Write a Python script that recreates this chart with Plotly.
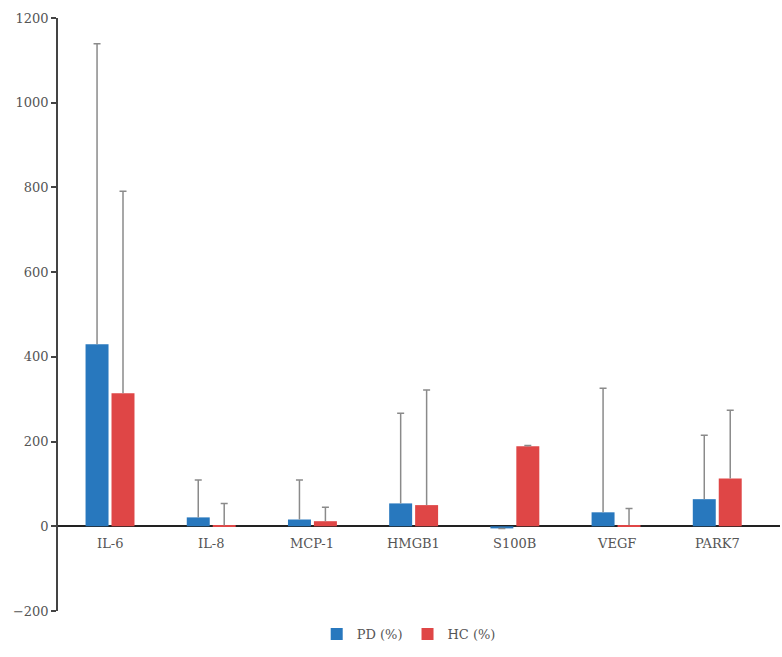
import plotly.graph_objects as go

categories = ["IL-6", "IL-8", "MCP-1", "HMGB1", "S100B", "VEGF", "PARK7"]
pd_values = [430, 21, 16, 54, -5, 33, 64]
pd_err_top = [1139, 109, 109, 267, -5, 326, 215]
hc_values = [314, 2, 12, 50, 189, 3, 113]
hc_err_top = [791, 54, 45, 322, 191, 42, 274]
y_ticks = [-200, 0, 200, 400, 600, 800, 1000, 1200]

pd_err = [t - v for t, v in zip(pd_err_top, pd_values)]
hc_err = [t - v for t, v in zip(hc_err_top, hc_values)]

FONT = "DejaVu Serif"
BLUE = "#2878be"
RED = "#df4646"
ERR_COLOR = "#8a8a8a"
stem_style = dict(type="data", symmetric=False, arrayminus=[0] * 7,
                  color=ERR_COLOR, thickness=1.5, width=0)
cap_style = dict(type="data", array=[0] * 7, color=ERR_COLOR, thickness=1.5, width=3.5)

fig = go.Figure()
fig.add_trace(go.Bar(x=categories, y=pd_values, name="PD (%)", offsetgroup="pd",
                     marker=dict(color=BLUE, line=dict(width=0)),
                     error_y=dict(array=pd_err, **stem_style)))
fig.add_trace(go.Bar(x=categories, y=hc_values, name="HC (%)", offsetgroup="hc",
                     marker=dict(color=RED, line=dict(width=0)),
                     error_y=dict(array=hc_err, **stem_style)))
# zero-height bars at the error tops that only carry the caps
fig.add_trace(go.Bar(x=categories, y=[0] * 7, base=pd_err_top, offsetgroup="pd",
                     showlegend=False, hoverinfo="skip", marker=dict(opacity=0),
                     error_y=cap_style))
fig.add_trace(go.Bar(x=categories, y=[0] * 7, base=hc_err_top, offsetgroup="hc",
                     showlegend=False, hoverinfo="skip", marker=dict(opacity=0),
                     error_y=cap_style))

for c in categories:
    fig.add_annotation(x=c, y=0, xref="x", yref="y", text=c, showarrow=False,
                       yanchor="top", yshift=-8,
                       font=dict(family=FONT, size=13, color="#555555"))

fig.update_layout(
    width=782, height=657,
    margin=dict(l=58, r=2, t=18, b=46, autoexpand=False),
    paper_bgcolor="white", plot_bgcolor="white",
    barmode="group", bargap=0.487, bargroupgap=0.115,
    font=dict(family=FONT, size=13, color="#555555"),
    showlegend=True,
    legend=dict(orientation="h", xref="container", x=0.405, xanchor="left",
                yref="container", y=0.012, yanchor="bottom",
                font=dict(family=FONT, size=13, color="#555555"),
                itemwidth=30, tracegroupgap=0),
    xaxis=dict(showticklabels=False, showline=False, showgrid=False,
               zeroline=False, ticks="", range=[-0.514, 6.62]),
    yaxis=dict(range=[-200, 1200], tickvals=y_ticks,
               showline=True, linecolor="#444444", linewidth=1.5,
               ticks="outside", ticklen=5, tickcolor="#444444", tickwidth=1.5,
               showgrid=False, zeroline=True, zerolinecolor="#222222",
               zerolinewidth=1.5,
               tickfont=dict(family=FONT, size=13, color="#555555")),
)

fig.write_html("out.html")
